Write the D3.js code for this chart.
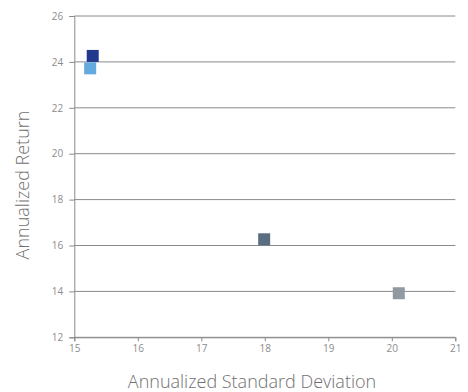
<!DOCTYPE html>
<html>
<head>
<meta charset="utf-8">
<script src="https://cdn.jsdelivr.net/npm/d3@7"></script>
<style>
  html, body { margin: 0; padding: 0; background: #fff; }
  svg text { font-family: "Open Sans", "Noto Sans", sans-serif; }
</style>
</head>
<body>
<svg id="chart" width="468" height="392"></svg>
<script>
// Risk / return points
const names = ["A", "B", "C", "D"];
const stdDev = [15.29, 15.25, 17.99, 20.11];
const returns = [24.26, 23.72, 16.27, 13.92];
const colors = ["#213a8e", "#65aade", "#5a6e82", "#9199a1"];

const xTicks = [15, 16, 17, 18, 19, 20, 21];
const yTicks = [12, 14, 16, 18, 20, 22, 24, 26];

(function draw() {
  const svg = d3.select("#chart");
  const m = { left: 74.3, right: 455.3, top: 16, bottom: 337.3 };

  const x = d3.scaleLinear().domain([15, 21]).range([m.left, m.right]);
  const y = d3.scaleLinear().domain([12, 26]).range([m.bottom, m.top]);

  const axisColor = "#8a8a8a";
  const textColor = "#8c8c8c";

  // horizontal gridlines
  svg.append("g")
    .selectAll("line")
    .data(yTicks)
    .join("line")
    .attr("x1", m.left).attr("x2", m.right)
    .attr("y1", d => y(d)).attr("y2", d => y(d))
    .attr("stroke", axisColor).attr("stroke-width", 1);

  // y axis
  const yAxis = svg.append("g")
    .attr("transform", `translate(${m.left},0)`)
    .call(d3.axisLeft(y).tickValues(yTicks).tickFormat(d3.format("d")).tickSize(5).tickPadding(6));
  yAxis.select(".domain").attr("stroke", axisColor);
  yAxis.selectAll(".tick line").attr("stroke", axisColor);
  yAxis.selectAll(".tick text").attr("fill", textColor).attr("font-size", 10);

  // x axis
  const xAxis = svg.append("g")
    .attr("transform", `translate(0,${m.bottom})`)
    .call(d3.axisBottom(x).tickValues(xTicks).tickFormat(d3.format("d")).tickSize(4).tickPadding(4));
  xAxis.select(".domain").attr("stroke", axisColor);
  xAxis.selectAll(".tick line").attr("stroke", axisColor);
  xAxis.selectAll(".tick text").attr("fill", textColor).attr("font-size", 10);

  // points
  const size = 12;
  svg.append("g")
    .selectAll("rect")
    .data(names)
    .join("rect")
    .attr("x", (d, i) => x(stdDev[i]) - size / 2)
    .attr("y", (d, i) => y(returns[i]) - size / 2)
    .attr("width", size).attr("height", size)
    .attr("fill", (d, i) => colors[i]);

  // axis titles
  svg.append("text")
    .attr("x", 252)
    .attr("y", 388)
    .attr("text-anchor", "middle")
    .attr("font-size", 18)
    .attr("font-weight", 300)
    .attr("fill", "#6f6f6f")
    .text("Annualized Standard Deviation");

  svg.append("text")
    .attr("transform", "translate(29,185) rotate(-90)")
    .attr("text-anchor", "middle")
    .attr("font-size", 18)
    .attr("font-weight", 300)
    .attr("fill", "#6f6f6f")
    .text("Annualized Return");
})();
</script>
</body>
</html>
